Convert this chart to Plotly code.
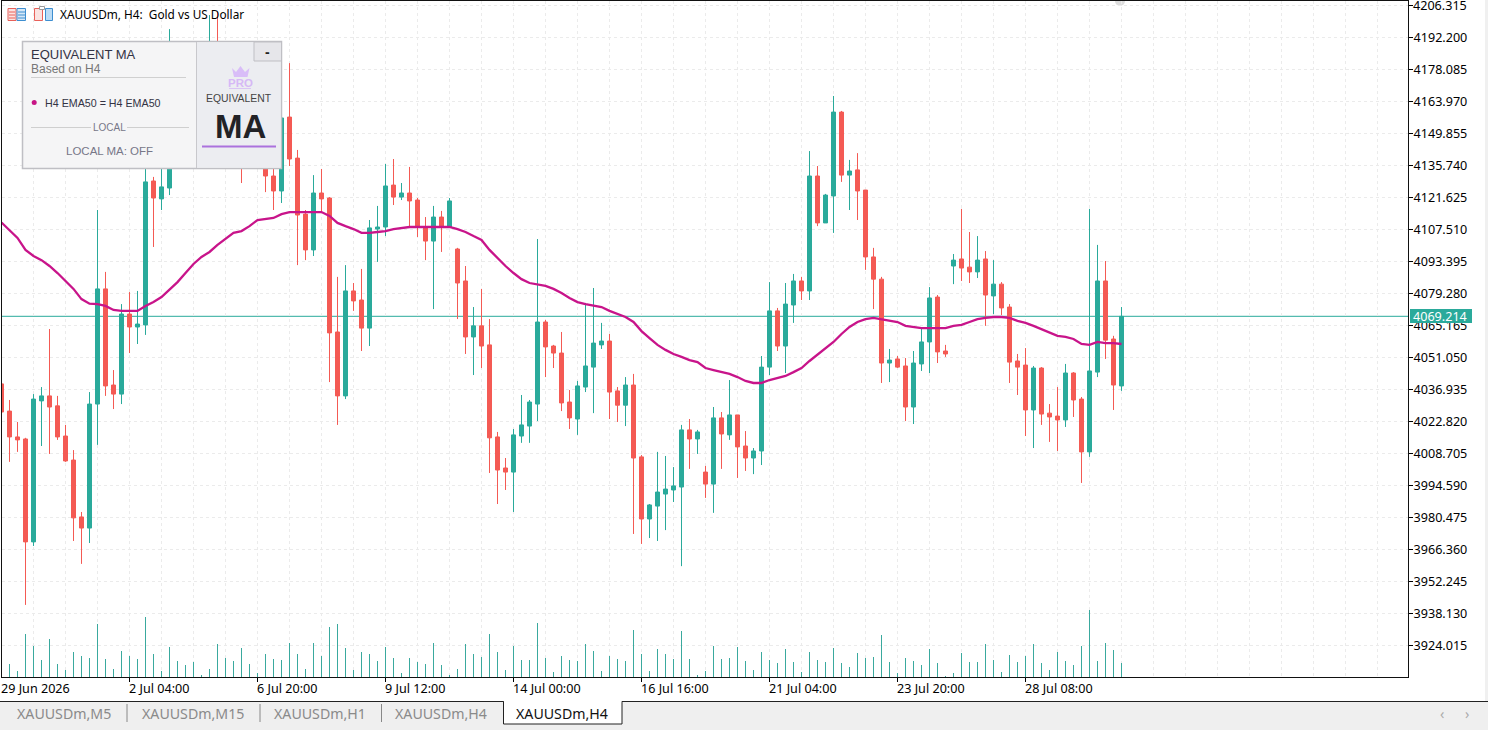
import plotly.graph_objects as go

# ---------- data ----------
OPEN = [4039.4,4027.4,4016.0,4015.1,3969.7,4031.9,4034.1,4029.7,4016.4,4005.8,3980.7,3975.8,4030.5,4081.3,4038.9,4034.9,4070.2,4064.5,4065.4,4128.9,
        4121.0,4125.8,4160.2,4149.2,4164.6,4177.0,4181.4,4186.7,4169.9,4158.9,4147.9,4138.2,4151.4,4143.5,4131.1,4124.5,4157.1,4139.0,4114.3,4098.5,
        4123.6,4121.4,4062.3,4034.1,4080.4,4076.4,4064.0,4107.7,4108.6,4127.1,4121.8,4123.6,4120.5,4108.6,4102.4,4113.0,4108.6,4098.9,4084.8,4060.1,
        4065.0,4056.6,4016.0,4002.3,4000.5,4016.4,4020.8,4030.5,4066.7,4056.1,4053.0,4031.4,4023.9,4038.0,4046.8,4056.6,4058.3,4036.3,4030.0,4038.9,
        4007.2,3979.8,3985.5,3990.8,3992.6,3993.9,4019.1,4015.1,4000.5,3995.2,4024.4,4016.9,4025.7,4012.0,4006.7,4009.8,4046.8,4071.6,4056.1,4074.2,
        4084.8,4080.4,4131.1,4110.4,4122.3,4159.3,4131.5,4133.8,4124.9,4095.4,4085.6,4048.6,4050.4,4047.3,4029.2,4048.2,4057.9,4077.7,4053.9,4091.4,
        4094.5,4090.9,4088.8,4094.5,4078.2,4083.4,4073.3,4049.5,4047.7,4027.9,4046.4,4026.5,4025.2,4023.5,4044.2,4032.7,4009.4,4044.6,4084.8,4059.2,4038.5]
HIGH = [4039.4,4032.3,4022.6,4015.6,4034.9,4038.0,4063.6,4034.1,4021.3,4010.2,3982.9,4035.8,4116.1,4088.8,4045.5,4074.6,4079.9,4080.4,4138.2,4130.7,
        4135.9,4195.9,4169.0,4171.2,4182.3,4186.7,4202.1,4203.4,4175.7,4164.6,4155.8,4158.0,4158.0,4149.2,4142.6,4162.4,4180.9,4142.6,4116.1,4131.5,
        4134.2,4121.8,4086.6,4091.8,4083.9,4090.1,4111.7,4117.9,4136.4,4138.6,4128.0,4135.1,4121.4,4113.0,4117.9,4115.7,4121.4,4099.4,4091.4,4073.3,
        4081.3,4068.0,4018.2,4006.7,4019.5,4034.5,4032.3,4103.3,4067.6,4056.6,4062.3,4036.7,4040.7,4075.1,4081.7,4066.3,4061.4,4038.0,4042.4,4043.8,
        4008.0,3986.4,4009.4,4007.6,4002.7,4021.3,4023.9,4019.1,4003.2,4029.2,4027.0,4041.1,4025.7,4018.6,4011.1,4051.7,4084.3,4072.9,4083.9,4087.9,
        4086.6,4142.1,4135.5,4123.2,4166.4,4159.8,4138.2,4141.2,4124.9,4099.4,4086.6,4054.8,4051.7,4050.8,4053.9,4063.6,4082.1,4078.6,4056.6,4096.7,
        4116.6,4106.4,4104.6,4098.0,4094.0,4084.3,4074.6,4052.6,4055.2,4047.3,4046.8,4030.5,4038.0,4048.2,4044.6,4033.6,4116.6,4100.7,4093.6,4060.6,4073.3]
LOW = [4027.0,4005.0,4009.4,3941.9,3967.9,4012.0,4008.5,4014.7,4005.0,3970.1,3960.0,3969.2,4012.5,4034.1,4028.3,4030.5,4053.0,4057.0,4061.0,4099.8,
       4116.1,4122.7,4144.8,4144.8,4160.2,4169.0,4177.9,4164.6,4151.4,4142.6,4128.0,4135.9,4138.2,4124.0,4116.1,4119.2,4135.5,4091.8,4094.0,4095.8,
       4115.2,4040.2,4021.3,4032.7,4071.6,4053.9,4056.1,4093.2,4104.6,4118.3,4120.5,4108.6,4104.2,4094.0,4072.4,4097.6,4108.6,4068.0,4052.6,4043.3,
       4046.4,4000.1,3986.4,3992.6,3982.9,4013.4,4013.4,4023.0,4042.4,4046.4,4027.4,4019.5,4016.9,4035.8,4026.5,4054.8,4023.9,4022.6,4020.8,3973.2,
       3968.8,3971.4,3970.1,3974.9,3987.3,3959.0,4001.9,4008.5,3989.1,3982.5,4001.9,4014.7,3997.9,4001.0,3999.6,4003.6,4043.3,4053.9,4044.2,4066.3,
       4076.4,4076.4,4109.0,4110.4,4106.0,4128.5,4116.1,4111.7,4089.7,4072.4,4039.8,4040.2,4046.4,4023.0,4021.7,4045.1,4044.2,4048.6,4051.3,4083.4,
       4084.8,4083.9,4086.1,4065.0,4070.2,4069.8,4039.8,4034.5,4016.4,4011.1,4021.3,4013.8,4009.8,4020.4,4024.8,3995.7,4007.2,4042.4,4050.4,4027.9,4036.3]
CLOSE = [4027.0,4016.0,4014.7,3969.7,4032.7,4034.1,4029.2,4016.0,4005.4,3980.3,3975.8,4030.5,4081.3,4038.5,4034.9,4070.2,4064.5,4065.8,4128.5,4121.4,
         4126.3,4160.2,4149.2,4164.6,4177.9,4182.3,4186.7,4169.0,4158.0,4147.0,4138.2,4151.4,4142.6,4131.1,4124.5,4156.7,4138.6,4113.9,4098.5,4123.6,
         4121.0,4061.9,4034.1,4080.4,4076.0,4064.0,4108.2,4108.6,4126.7,4121.8,4123.6,4120.1,4108.6,4102.4,4113.0,4108.6,4120.1,4083.9,4060.1,4065.0,
         4056.1,4015.6,4001.4,4000.5,4016.9,4021.3,4031.4,4066.7,4055.7,4053.0,4031.0,4024.4,4038.5,4047.3,4057.4,4058.3,4035.8,4030.0,4038.9,4006.7,
         3979.8,3986.0,3991.7,3993.0,3994.4,4019.1,4015.1,4018.2,3995.2,4024.4,4017.3,4025.7,4011.6,4006.7,4009.8,4046.8,4071.6,4056.1,4074.6,4084.8,
         4080.4,4131.1,4110.4,4122.7,4159.3,4131.5,4133.3,4124.5,4095.4,4085.6,4048.6,4049.9,4046.8,4029.2,4048.6,4057.9,4077.3,4053.5,4052.6,4094.0,
         4090.5,4088.8,4094.0,4078.6,4083.4,4072.9,4049.0,4046.8,4027.9,4046.4,4026.1,4024.8,4023.5,4044.2,4032.3,4009.4,4045.1,4084.8,4058.7,4038.9,4069.2]
EMA50 = [4110.6,4107.3,4103.8,4098.5,4095.8,4094.0,4091.4,4088.3,4084.8,4081.3,4076.8,4074.8,4074.6,4073.8,4072.0,4071.6,4071.6,4071.6,4073.8,4075.5,
         4077.7,4080.8,4084.3,4088.3,4092.3,4095.4,4097.6,4100.7,4103.3,4106.0,4106.8,4109.0,4111.7,4112.1,4112.6,4114.3,4115.2,4115.2,4115.2,4115.2,
         4115.2,4113.5,4110.4,4109.0,4107.7,4106.0,4106.0,4106.4,4106.8,4107.7,4108.2,4108.6,4108.6,4108.6,4108.6,4108.6,4108.6,4107.7,4106.4,4104.6,
         4102.9,4098.5,4094.9,4091.4,4088.3,4085.6,4083.9,4083.4,4082.6,4081.3,4079.5,4077.3,4075.5,4074.6,4073.8,4073.3,4071.6,4070.2,4068.9,4066.7,
         4062.7,4059.6,4056.6,4054.4,4052.6,4051.3,4049.9,4049.0,4046.4,4045.5,4044.6,4043.8,4042.4,4040.7,4039.8,4039.8,4041.1,4042.0,4042.9,4044.6,
         4046.4,4049.5,4052.2,4054.8,4057.9,4061.4,4064.5,4066.7,4068.0,4068.5,4068.0,4067.2,4066.7,4065.0,4064.5,4064.0,4064.0,4064.0,4064.0,4065.0,
         4065.4,4066.7,4068.0,4068.5,4068.9,4068.9,4068.5,4067.2,4066.3,4065.0,4063.6,4061.9,4060.6,4060.1,4059.2,4057.0,4056.6,4057.9,4057.4,4057.4,4057.0]
VOLUME = [12,39,18,129,93,51,114,39,21,75,63,57,159,54,24,78,63,54,180,69,18,90,48,36,45,6,24,99,57,48,87,39,12,69,54,51,102,69,24,102,
          63,150,159,87,21,75,69,48,90,57,12,57,45,39,102,36,6,24,99,69,60,129,75,21,93,51,51,162,57,15,63,51,48,99,78,18,63,54,48,141,
          69,18,84,69,54,138,54,6,18,93,54,57,90,48,21,75,51,42,84,45,15,75,51,45,87,42,30,72,57,60,126,45,12,57,48,36,84,42,3,12,
          72,45,45,99,51,15,66,45,63,99,42,21,75,48,36,93,201,48,102,81,42]
BARS = list(range(len(OPEN)))
PRICE_TICKS = [4206.315,4192.200,4178.085,4163.970,4149.855,4135.740,4121.625,4107.510,4093.395,4079.280,4065.165,
               4051.050,4036.935,4022.820,4008.705,3994.590,3980.475,3966.360,3952.245,3938.130,3924.015]
DATE_BARS = [0,16,32,48,64,80,96,112,128]
DATE_LABELS = ["29 Jun 2026","2 Jul 04:00","6 Jul 20:00","9 Jul 12:00","14 Jul 00:00","16 Jul 16:00","21 Jul 04:00","23 Jul 20:00","28 Jul 08:00"]
BID = 4069.214
TABS = ["XAUUSDm,M5","XAUUSDm,M15","XAUUSDm,H1","XAUUSDm,H4"]

# ---------- styles ----------
TEAL, RED = "#2aaa9b", "#f45a54"
FONT = "Noto Sans"
PANEL = "Liberation Sans"
L, R, T, B = 2, 80, 1, 53
W, H = 1488, 730
PW, PH = W - L - R, H - T - B
XR = [0.0625, 175.8125]
YR = [3910.1, 4208.3]

def px(x): return (x - L) / PW
def py(y): return (H - B - y) / PH

shapes, notes = [], []

def rect(x0, y0, x1, y1, fill, line=None, lw=1, layer="above"):
    shapes.append(dict(type="rect", xref="paper", yref="paper", x0=px(x0), x1=px(x1), y0=py(y0), y1=py(y1),
                       fillcolor=fill, line=dict(color=line or fill, width=lw if line else 0), layer=layer))

def seg(x0, y0, x1, y1, color, lw=1):
    shapes.append(dict(type="line", xref="paper", yref="paper", x0=px(x0), x1=px(x1), y0=py(y0), y1=py(y1),
                       line=dict(color=color, width=lw), layer="above"))

def txt(x, y, s, size, color, anchor="left", family=FONT, bold=False):
    if bold:
        s = "<b>" + s + "</b>"
    notes.append(dict(xref="paper", yref="paper", x=px(x), y=py(y), text=s, showarrow=False, xanchor=anchor,
                      yanchor="middle", font=dict(family=family, size=size, color=color), borderpad=0, borderwidth=0))

fig = go.Figure()
fig.add_trace(go.Bar(x=BARS, y=VOLUME, yaxis="y2", width=0.125, marker=dict(color="#3aa99e", line=dict(width=0)), hoverinfo="skip"))
fig.add_trace(go.Candlestick(x=BARS, open=OPEN, high=HIGH, low=LOW, close=CLOSE, whiskerwidth=0,
                             increasing=dict(line=dict(color=TEAL, width=1), fillcolor=TEAL),
                             decreasing=dict(line=dict(color=RED, width=1), fillcolor=RED), hoverinfo="skip"))
fig.add_trace(go.Scatter(x=BARS, y=EMA50, mode="lines", line=dict(color="#c8148a", width=2.3), hoverinfo="skip"))

# bid line
shapes.append(dict(type="line", xref="paper", yref="y", x0=0, x1=1, y0=BID, y1=BID, line=dict(color=TEAL, width=1), layer="below"))
rect(1410, 309, 1472, 323, TEAL)
txt(1413, 316, f"{BID:.3f}", 12.6, "#ffffff")

# the topmost price label sits too near the page edge for an axis label
txt(1413, 5.5, f"{PRICE_TICKS[0]:.3f}", 12.6, "#000000")

# date labels on the time axis
for b, s in zip(DATE_BARS, DATE_LABELS):
    notes.append(dict(xref="paper", yref="paper", x=(b - XR[0]) / (XR[1] - XR[0]) - 1 / PW, y=py(688), text=s, showarrow=False,
                      xanchor="left", yanchor="middle", font=dict(family=FONT, size=12.6, color="#000000"), borderpad=0, borderwidth=0))

# chart title and icons
rect(8, 8.5, 16, 20.5, "#fbe3e1", "#e8615a")
rect(17, 8.5, 25.5, 20.5, "#d6e8f7", "#3d8ed0")
for yy in (12, 15, 18):
    seg(9, yy, 15, yy, "#e8615a")
    seg(18, yy, 25, yy, "#3d8ed0")
rect(34.5, 8.5, 42.5, 20.5, "#fbe3e1", "#e8615a")
rect(45.5, 8.5, 52.5, 20.5, "#bcdcf5", "#3d8ed0")
rect(39.5, 6.5, 44.5, 9.5, "#ffffff", "#999999")
txt(60, 14, "XAUUSDm, H4:  Gold vs US Dollar", 11.8, "#000000")
shapes.append(dict(type="circle", xref="paper", yref="paper", x0=px(1115), x1=px(1125), y0=py(-4), y1=py(6), fillcolor="#dddddd", line=dict(width=0), layer="below"))

# indicator panel
rect(22.5, 41.5, 281.5, 168.5, "#f5f5f6", "#bfbfc4", 1.5)
rect(196.5, 42.5, 280.5, 167.5, "#ecedf1")
seg(196.5, 42, 196.5, 168, "#c8c8cc")
rect(254, 42, 281.5, 61, "#e6e6ea", "#bfbfc4")
txt(267.5, 52, "-", 14, "#222222", "center", family=PANEL, bold=True)
txt(31, 54.5, "EQUIVALENT MA", 13, "#333344", family=PANEL)
txt(31, 69, "Based on H4", 12, "#777777", family=PANEL)
seg(31, 77.5, 186, 77.5, "#d0d0d0")
shapes.append(dict(type="circle", xref="paper", yref="paper", x0=px(31.7), x1=px(36.7), y0=py(100), y1=py(105), fillcolor="#c71585", line=dict(width=0), layer="above"))
txt(45, 103, "H4 EMA50 = H4 EMA50", 10.7, "#333344", family=PANEL)
seg(31, 127.5, 91, 127.5, "#cfcfcf")
seg(127, 127.5, 189, 127.5, "#cfcfcf")
txt(109, 127.5, "LOCAL", 10, "#777788", "center", family=PANEL)
txt(109.5, 150.5, "LOCAL MA: OFF", 11.5, "#777788", "center", family=PANEL)
# crown
crown = [(232, 68), (236, 72), (240.5, 66), (245, 72), (249.5, 68), (247.5, 77), (234, 77)]
shapes.append(dict(type="path", xref="paper", yref="paper", layer="above", fillcolor="#d9bdf8", line=dict(width=0),
                   path="M " + " L ".join(f"{px(a)},{py(b)}" for a, b in crown) + " Z"))
txt(240, 82.5, "PRO", 11.5, "#d6b8f6", "center", family=PANEL, bold=True)
seg(229, 88.5, 251, 88.5, "#d9c4f4")
txt(239, 98.5, "EQUIVALENT", 10.4, "#444444", "center", family=PANEL)
txt(240, 127, "MA", 33, "#222226", "center", family=PANEL, bold=True)
seg(202, 146.5, 276, 146.5, "#ab72dd", 2)

# bottom tab strip and window edge
rect(0, 701.5, 1488, 730, "#efefef")
seg(0, 701.5, 1488, 701.5, "#222222")
rect(1485, 0, 1488, 701, "#f0f0f0")
for xx in (127, 260, 381.5):
    seg(xx, 704, xx, 722, "#888888")
for xx, s in zip((17, 142, 274, 395), TABS):
    txt(xx, 713.5, s, 14.2, "#8a8a8a")
shapes.append(dict(type="path", xref="paper", yref="paper", layer="above", fillcolor="#ffffff", line=dict(color="#222222", width=1),
                   path=f"M {px(503.5)},{py(701.5)} L {px(503.5)},{py(724)} L {px(622)},{py(724)} L {px(622)},{py(701.5)}"))
seg(504, 701.5, 621.5, 701.5, "#ffffff", 1.5)
txt(516, 713.5, TABS[3], 14.2, "#111111")
txt(1442, 713, "‹", 14, "#aaaaaa", "center")
txt(1467, 713, "›", 14, "#aaaaaa", "center")

GRID = dict(showgrid=True, gridcolor="#ebebeb", gridwidth=1, griddash="3px,3px")
fig.update_layout(
    width=W, height=H, autosize=False, showlegend=False, paper_bgcolor="#ffffff", plot_bgcolor="#ffffff",
    margin=dict(l=L, r=R, t=T, b=B, pad=0), boxgap=0, boxgroupgap=0.5, bargap=0, shapes=shapes, annotations=notes,
    font=dict(family=FONT, size=12.6, color="#000000"),
    xaxis=dict(range=XR, type="linear", tickmode="array", tickvals=DATE_BARS, ticktext=DATE_LABELS, showticklabels=False,
               ticks="outside", ticklen=4, tickcolor="#000000", tickwidth=1, showline=True, linecolor="#111111", linewidth=1,
               mirror=True, zeroline=False, rangeslider=dict(visible=False), **GRID,
               minor=dict(tickmode="linear", tick0=0, dtick=4, ticks="", showgrid=True, gridcolor="#ebebeb", griddash="3px,3px", gridwidth=1)),
    yaxis=dict(range=YR, side="right", tickmode="array", tickvals=PRICE_TICKS, tickformat=".3f", ticks="outside", ticklen=4,
               tickcolor="#000000", tickwidth=1, showline=True, linecolor="#111111", linewidth=1, mirror=True, zeroline=False, **GRID,
               ticklabelstandoff=-2, tickfont=dict(family=FONT, size=12.6, color="#000000")),
    yaxis2=dict(range=[0, 2028], overlaying="y", side="right", visible=False, showgrid=False, zeroline=False, fixedrange=True),
)
fig.write_html("out.html", config=dict(displayModeBar=False),
               post_script="document.body.style.margin='0';document.body.style.overflow='hidden';")
